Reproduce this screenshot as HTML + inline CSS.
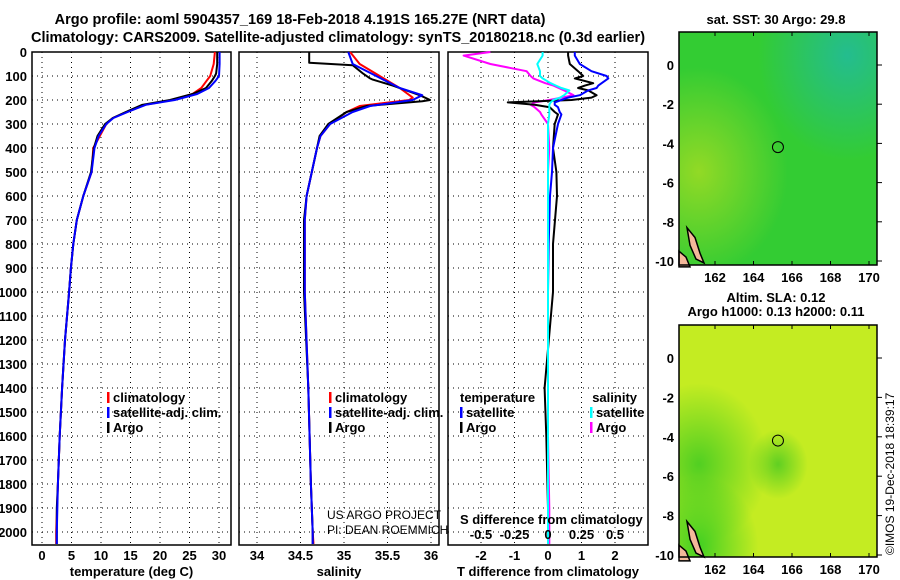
<!DOCTYPE html>
<html><head><meta charset="utf-8"><style>
body{margin:0;background:#fff;}
svg{display:block;font-family:"Liberation Sans",Arial,sans-serif;}
.b{font-weight:bold;font-size:13px;}
.t{font-weight:bold;font-size:14.5px;}
</style></head><body>
<svg id="c" width="900" height="580" viewBox="0 0 900 580">
<defs>
<radialGradient id="g1" cx="0.85" cy="0.1" r="0.45"><stop offset="0" stop-color="#22bb99" stop-opacity="0.9"/><stop offset="1" stop-color="#22bb99" stop-opacity="0"/></radialGradient>
<radialGradient id="g2" cx="0.1" cy="0.6" r="0.45"><stop offset="0" stop-color="#aadd22" stop-opacity="0.8"/><stop offset="1" stop-color="#aadd22" stop-opacity="0"/></radialGradient>
<radialGradient id="g3" cx="0.1" cy="0.6" r="0.35"><stop offset="0" stop-color="#44cc22" stop-opacity="0.9"/><stop offset="1" stop-color="#44cc22" stop-opacity="0"/></radialGradient>
<radialGradient id="g4" cx="0.5" cy="0.6" r="0.15"><stop offset="0" stop-color="#55cc22" stop-opacity="0.9"/><stop offset="1" stop-color="#55cc22" stop-opacity="0"/></radialGradient>
<radialGradient id="g5" cx="0.1" cy="0.95" r="0.3"><stop offset="0" stop-color="#33cc22" stop-opacity="0.9"/><stop offset="1" stop-color="#33cc22" stop-opacity="0"/></radialGradient>
</defs>
<text class="t" x="300" y="24" text-anchor="middle">Argo profile: aoml 5904357_169 18-Feb-2018 4.191S 165.27E (NRT data)</text>
<text class="t" x="338" y="42" text-anchor="middle">Climatology: CARS2009. Satellite-adjusted climatology: synTS_20180218.nc (0.3d earlier)</text>
<g id="p1"></g>
<g id="p2"></g>
<g id="p3"></g>
<g id="maps"></g>
<text x="894" y="555" transform="rotate(-90 894 555)" font-size="12">©IMOS 19-Dec-2018 18:39:17</text>
</svg>
<script>
const depthTicks=[0,100,200,300,400,500,600,700,800,900,1000,1100,1200,1300,1400,1500,1600,1700,1800,1900,2000];
const tTicks=[0,5,10,15,20,25,30];
const sTicks=[34,34.5,35,35.5,36];
const dTTicks=[-2,-1,0,1,2];
const dSTickLabels=["-0.5","-0.25","0","0.25","0.5"];
const dSTicks=[-0.5,-0.25,0,0.25,0.5];
const argoTDepth=[0,50,90,100,120,150,175,200,220,250,275,300,350,400,500,600,700,800,900,1000,1200,1400,1600,1800,1900,2000,2050];
const argoT=[29.7,29.7,29.5,29.3,28.8,27.8,25.5,21.7,17,14.2,12,10.7,9.4,8.8,8.3,7.0,5.9,5.3,4.9,4.6,3.9,3.4,3.0,2.7,2.5,2.5,2.5];
const climTDepth=[0,50,100,120,150,175,200,220,250,275,300,350,400,500,600,700,800,900,1000,1200,1400,1600,1800,2000,2050];
const climT=[29.3,29.1,28.5,27.9,27.0,25.5,22,17.5,14.4,12.0,10.9,9.8,8.7,8.4,7.0,5.9,5.3,4.9,4.6,3.9,3.4,3.0,2.7,2.4,2.4];
const satT=[30.1,30.1,30.0,29.4,28.3,26.3,22.5,17.6,14.5,12.1,10.9,9.6,8.9,8.4,7.0,5.9,5.3,4.9,4.6,3.9,3.4,3.0,2.7,2.5,2.5];
const argoSDepth=[0,45,55,90,110,115,140,180,200,205,225,250,300,350,400,500,600,700,1000,1400,1800,2000,2050];
const argoS=[34.6,34.6,35.1,35.22,35.3,35.33,35.56,35.87,35.99,35.9,35.26,35.03,34.82,34.72,34.69,34.63,34.57,34.54,34.54,34.59,34.62,34.64,34.64];
const climSDepth=[0,50,100,150,190,200,225,250,300,350,400,500,600,700,1000,1400,1800,2000,2050];
const climS=[35.07,35.18,35.41,35.64,35.79,35.75,35.18,35.03,34.84,34.73,34.69,34.63,34.57,34.55,34.55,34.59,34.62,34.64,34.65];
const satSDepth=[0,50,100,150,180,200,225,250,300,350,400,500,600,700,1000,1400,1800,2000,2050];
const satS=[35.05,35.1,35.37,35.64,35.9,35.79,35.3,35.1,34.84,34.73,34.69,34.63,34.57,34.55,34.55,34.59,34.62,34.64,34.64];
const dDepth=[0,15,50,80,100,110,130,140,150,160,180,190,200,210,220,230,250,260,300,400,500,600,800,1000,1400,1600,1900,2050];
const argoDT=[0.6,0.6,0.65,0.9,1.05,0.8,1.35,1.1,0.9,1.2,1.45,1.3,0.7,-1.2,-0.4,0.05,0.2,0.3,0.2,0.15,0.25,0.27,0.15,0.15,-0.1,-0.05,0,0];
const satDT=[0.8,0.8,0.95,1.3,1.75,1.8,1.6,1.5,1.45,1.2,0.95,0.6,0.4,0.2,0.2,0.3,0.35,0.4,0.3,0.15,0.12,0.06,0.02,0,0,0,0,0];
const argoDS=[-0.43,-0.63,-0.43,-0.16,-0.13,-0.11,-0.02,0.04,0.08,0.12,0.19,0.1,0.01,-0.1,-0.13,-0.1,-0.06,-0.05,0,0.01,0,0,0,0,0,0,0.01,0.01];
const satDS=[-0.04,-0.04,-0.08,-0.06,-0.06,-0.04,0.02,0.06,0.1,0.16,0.12,0.09,0.04,0.02,0.01,0.01,0.01,0.01,0,0,0,0,0,0,0,0,0,0];

const NS="http://www.w3.org/2000/svg";
function mk(parent,tag,attrs){const e=document.createElementNS(NS,tag);for(const k in attrs)e.setAttribute(k,attrs[k]);parent.appendChild(e);return e;}
const TOP=52,BOT=545;
const yD=d=>TOP+d*0.24;

function panel(g,x0,x1,xs,ticks,labels,title,name){
  for(const d of depthTicks){
    const l=mk(g,'line',{x1:x0,x2:x1,y1:yD(d),y2:yD(d),stroke:'#000','stroke-dasharray':'1,4'});
    
    
  }
  ticks.forEach((v,i)=>{
    const x=xs(v);
    const l=mk(g,'line',{x1:x,x2:x,y1:TOP,y2:BOT,stroke:'#000','stroke-dasharray':'1,4'});
    
    
    const t=mk(g,'text',{x:x,y:560,'text-anchor':'middle',class:'b'});t.textContent=labels[i];
    
    
  });
  const r=mk(g,'rect',{x:x0,y:TOP,width:x1-x0,height:BOT-TOP,fill:'none',stroke:'#000','stroke-width':1.5});
  
  
  const t=mk(g,'text',{x:(x0+x1)/2,y:576,'text-anchor':'middle',class:'b'});t.textContent=title;
  
  
}
function line(g,depths,vals,xs,color,w,name){
  const pts=depths.map((d,i)=>xs(vals[i]).toFixed(1)+','+yD(d).toFixed(1)).join(' ');
  const p=mk(g,'polyline',{points:pts,fill:'none',stroke:color,'stroke-width':w,'stroke-linejoin':'round'});
  
  
}
function legend(g,x,y,color,text){
  const r=mk(g,'rect',{x:x,y:y-10,width:2.5,height:11,fill:color});
  
  
  const t=mk(g,'text',{x:x+6,y:y,class:'b'});t.textContent=text;
  
  
}
const p1=document.getElementById('p1');
const xT=v=>42+v*5.9;
for(const d of depthTicks){const t=mk(p1,'text',{x:27,y:yD(d)+5,'text-anchor':'end',class:'b'});t.textContent=d;
  
  }
panel(p1,32,231,xT,tTicks,tTicks.map(String),'temperature (deg C)','x-axis-title-temperature');
line(p1,climTDepth,climT,xT,'#f00',2,'temperature-climatology');
line(p1,argoTDepth,argoT,xT,'#000',2,'temperature-argo');
line(p1,climTDepth,satT,xT,'#00f',2,'temperature-satellite');
legend(p1,107,402,'#f00','climatology');legend(p1,107,417,'#00f','satellite-adj. clim.');legend(p1,107,432,'#000','Argo');
const p2=document.getElementById('p2');
const xS=v=>257+(v-34)*87;
panel(p2,239,439,xS,sTicks,sTicks.map(String),'salinity','x-axis-title-salinity');
line(p2,climSDepth,climS,xS,'#f00',2,'salinity-climatology');
line(p2,argoSDepth,argoS,xS,'#000',2,'salinity-argo');
line(p2,satSDepth,satS,xS,'#00f',2,'salinity-satellite');
legend(p2,329,402,'#f00','climatology');legend(p2,329,417,'#00f','satellite-adj. clim.');legend(p2,329,432,'#000','Argo');
let t=mk(p2,'text',{x:327,y:519,'font-size':12});t.textContent='US ARGO PROJECT';


t=mk(p2,'text',{x:327,y:534,'font-size':12});t.textContent='PI: DEAN ROEMMICH';


const p3=document.getElementById('p3');
const xDT=v=>548+v*33.5;
const xDS=v=>548+v*134;
panel(p3,448,648,xDT,dTTicks,dTTicks.map(String),'T difference from climatology','x-axis-title-tdiff');
line(p3,dDepth,argoDS,xDS,'#f0f',2,'sdiff-argo');
line(p3,dDepth,argoDT,xDT,'#000',2,'tdiff-argo');
line(p3,dDepth,satDT,xDT,'#00f',2,'tdiff-satellite');
line(p3,dDepth,satDS,xDS,'#0ff',2,'sdiff-satellite');
t=mk(p3,'text',{x:460,y:402,class:'b'});t.textContent='temperature';


t=mk(p3,'text',{x:637,y:402,class:'b','text-anchor':'end'});t.textContent='salinity';


legend(p3,460,417,'#00f','satellite');legend(p3,460,432,'#000','Argo');
legend(p3,590,417,'#0ff','satellite');legend(p3,590,432,'#f0f','Argo');
t=mk(p3,'text',{x:460,y:524,class:'b'});t.textContent='S difference from climatology';


dSTicks.forEach((v,i)=>{const e=mk(p3,'text',{x:xDS(v),y:539,'text-anchor':'middle',class:'b'});e.textContent=dSTickLabels[i];
  
  });
const lonTicks=[162,164,166,168,170];
const latTicks=[0,-2,-4,-6,-8,-10];
const floatLon=165.27, floatLat=-4.191;
const maps=document.getElementById('maps');
const xL=v=>715+(v-162)*19.25;
function map(y0,y1,lat0y,lat10y,base,overlays,titles,name){
  const g=mk(maps,'g',{});
  
  
  const yL=v=>lat0y+(-v)*(lat10y-lat0y)/10;
  mk(g,'rect',{x:679,y:y0,width:198,height:y1-y0,fill:base});
  overlays.forEach(o=>mk(g,'rect',{x:679,y:y0,width:198,height:y1-y0,fill:'url(#'+o+')'}));
  mk(g,'path',{d:`M687 ${yL(-8.3)} L695 ${yL(-8.8)} L700 ${yL(-9.6)} L704 ${yL(-10.1)} L696 ${yL(-9.9)} L690 ${yL(-9.2)} Z`,fill:'#f4b89a',stroke:'#000','stroke-width':1.5});
  mk(g,'path',{d:`M679 ${yL(-9.5)} L686 ${yL(-9.8)} L690 ${yL(-10.3)} L679 ${yL(-10.3)} Z`,fill:'#f4b89a',stroke:'#000','stroke-width':1.5});
  mk(g,'rect',{x:679,y:y0,width:198,height:y1-y0,fill:'none',stroke:'#000','stroke-width':1.5});
  const c=mk(g,'circle',{cx:xL(floatLon),cy:yL(floatLat),r:5.5,fill:'none',stroke:'#000'});
  
  
  lonTicks.forEach(v=>{mk(g,'line',{x1:xL(v),x2:xL(v),y1:y0,y2:y0+4,stroke:'#000'});mk(g,'line',{x1:xL(v),x2:xL(v),y1:y1,y2:y1-4,stroke:'#000'});
    const e=mk(g,'text',{x:xL(v),y:y1+17,'text-anchor':'middle',class:'b'});e.textContent=v;
    
    });
  latTicks.forEach(v=>{mk(g,'line',{x1:877,x2:882,y1:yL(v),y2:yL(v),stroke:'#000'});
    const e=mk(g,'text',{x:674,y:yL(v)+5,'text-anchor':'end',class:'b'});e.textContent=v;
    
    });
  titles.forEach(([tx,ty])=>{const e=mk(g,'text',{x:776,y:ty,'text-anchor':'middle',class:'b','font-size':12});e.textContent=tx;
    
    });
}
map(32,265,65,261,'#33cc33',['g1','g2'],[['sat. SST: 30 Argo: 29.8',24]],'sst-map');
map(325,557,358,555,'#c4ec22',['g3','g4','g5'],[['Altim. SLA: 0.12',302],['Argo h1000: 0.13 h2000: 0.11',316]],'sla-map');
</script>
</body></html>
